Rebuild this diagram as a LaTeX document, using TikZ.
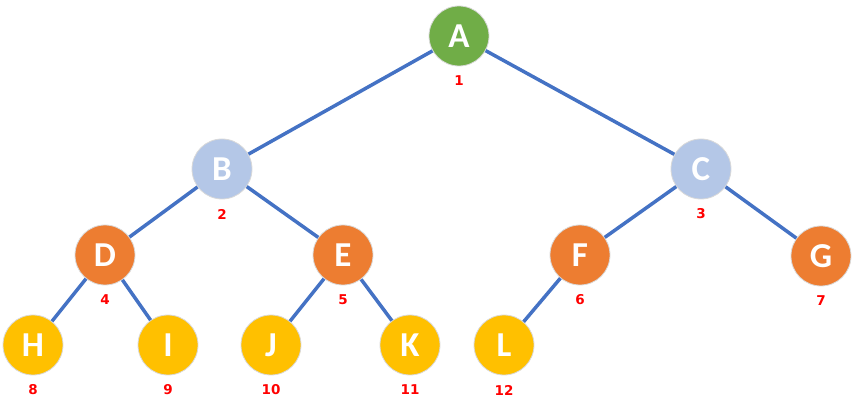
\documentclass[tikz,border=0pt]{standalone}
\usepackage{fontspec}
\setmainfont{Carlito}
\newfontfamily\zahlfont{DejaVu Sans}
\usetikzlibrary{positioning}
\definecolor{wurzelgruen}{RGB}{112,173,71}
\definecolor{hellblau}{RGB}{180,199,231}
\definecolor{orange}{RGB}{237,125,49}
\definecolor{gelb}{RGB}{255,192,0}
\definecolor{kantenblau}{RGB}{68,114,196}

\begin{document}
\begin{tikzpicture}[x=1pt, y=-1pt,
			knoten/.style={circle, draw=gray!30, line width=0.8pt, minimum size=60pt, inner sep=0pt, text=white, font=\bfseries\fontsize{35}{35}\selectfont},
			kante/.style={draw=kantenblau, line width=3.5pt},
			nummer/.style={text=red, font=\zahlfont\bfseries\fontsize{13.5}{13.5}\selectfont}]
			% Bildbereich
			\useasboundingbox (0,0) rectangle (855,406);
			% Knoten zeichnen
			\node[knoten, fill=wurzelgruen] (A) at (459,36) {A};
			\node[knoten, fill=hellblau] (B) at (222,169) {B};
			\node[knoten, fill=hellblau] (C) at (701,169) {C};
			\node[knoten, fill=orange] (D) at (105,255) {D};
			\node[knoten, fill=orange] (E) at (343,255) {E};
			\node[knoten, fill=orange] (F) at (580,255) {F};
			\node[knoten, fill=orange] (G) at (821,256) {G};
			\node[knoten, fill=gelb] (H) at (33,345) {H};
			\node[knoten, fill=gelb] (I) at (168,345) {I};
			\node[knoten, fill=gelb] (J) at (271,345) {J};
			\node[knoten, fill=gelb] (K) at (410,345) {K};
			\node[knoten, fill=gelb] (L) at (504,345) {L};
			% Kanten zeichnen
			\draw[kante] (A) -- (B);
			\draw[kante] (A) -- (C);
			\draw[kante] (B) -- (D);
			\draw[kante] (B) -- (E);
			\draw[kante] (C) -- (F);
			\draw[kante] (C) -- (G);
			\draw[kante] (D) -- (H);
			\draw[kante] (D) -- (I);
			\draw[kante] (E) -- (J);
			\draw[kante] (E) -- (K);
			\draw[kante] (F) -- (L);
			% Nummern
			\foreach \k/\z in {A/1,B/2,C/3,D/4,E/5,F/6,G/7,H/8,I/9,J/10,K/11,L/12}
				\node[nummer] (n\k) at ([yshift=-45pt]\k) {\z};
		\end{tikzpicture}
\end{document}
